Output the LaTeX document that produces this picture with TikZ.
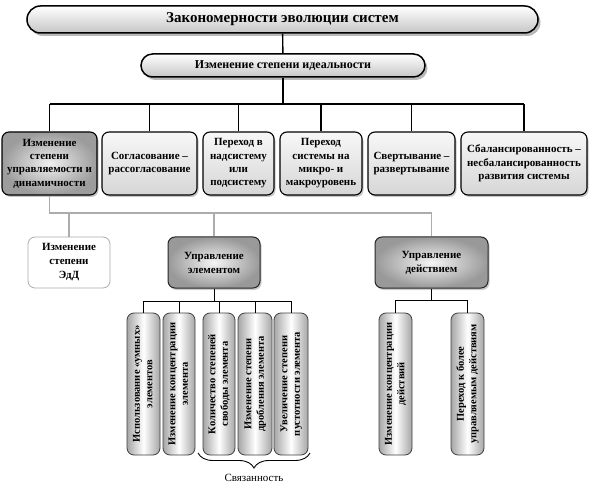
\documentclass[tikz,border=0pt]{standalone}
\usepackage{fontspec}
\usepackage{graphicx}
\setmainfont{Liberation Serif}
\usetikzlibrary{shadows,decorations.pathreplacing}
\newcommand{\vtext}[1]{\rotatebox{90}{\begin{tabular}{@{}c@{}}#1\end{tabular}}}
\begin{document}
\begin{tikzpicture}[x=1pt,y=-1pt,
  pill/.style={draw=black, line width=1.5pt, top color=white, bottom color=gray!45,
    drop shadow={shadow xshift=2.5pt, shadow yshift=-3pt, fill=black!55},
    inner sep=0pt, font=\bfseries},
  rowbox/.style={draw=black, line width=1.1pt, rounded corners=7pt, top color=gray!6, bottom color=gray!32,
    drop shadow={shadow xshift=1.5pt, shadow yshift=-2pt, fill=black!45},
    minimum height=63pt, inner sep=1pt, align=center, font=\bfseries\fontsize{11}{13.3}\selectfont},
  darkbox/.style={draw=black!85, line width=1pt, rounded corners=7pt, inner color=gray!8, outer color=gray!80,
    drop shadow={shadow xshift=1.5pt, shadow yshift=-2pt, fill=black!40},
    inner sep=1pt, align=center, font=\bfseries\fontsize{11}{14}\selectfont},
  whitebox/.style={draw=gray!65, line width=0.8pt, rounded corners=7pt, fill=white,
    inner sep=1pt, align=center, font=\bfseries\fontsize{11}{14}\selectfont},
  vbox/.style={draw=black!75, line width=0.8pt, rounded corners=7pt,
    left color=gray!70, right color=gray!70, middle color=white,
    minimum height=142pt, minimum width=33pt, inner sep=0pt,
    font=\bfseries\fontsize{10.5}{12.5}\selectfont},
  thick link/.style={draw=black, line width=1.4pt},
  gray link/.style={draw=gray!65, line width=1.4pt},
  thin link/.style={draw=black, line width=0.8pt}
]
\useasboundingbox (0,0) rectangle (591,486);

% top level
\node[pill, minimum width=511pt, minimum height=27pt, rounded corners=13.5pt, font=\bfseries\fontsize{15}{18}\selectfont]
  (top) at (282.5,19.5) {Закономерности эволюции систем};
\node[pill, minimum width=284pt, minimum height=23pt, rounded corners=11.5pt, font=\bfseries\fontsize{12}{14}\selectfont]
  (ideal) at (283,65.5) {Изменение степени идеальности};

% first row
\node[rowbox, minimum width=95pt, inner color=gray!12, outer color=gray!78] (r1) at (49.5,163.5)
  {Изменение\\степени\\управляемости и\\динамичности};
\node[rowbox, minimum width=95pt] (r2) at (149.5,163.5) {Согласование –\\рассогласование};
\node[rowbox, minimum width=71pt] (r3) at (238.5,163.5) {Переход в\\надсистему\\или\\подсистему};
\node[rowbox, minimum width=82pt] (r4) at (321,163.5) {Переход\\системы на\\микро- и\\макроуровень};
\node[rowbox, minimum width=87pt] (r5) at (411.5,163.5) {Свертывание –\\развертывание};
\node[rowbox, minimum width=126pt] (r6) at (524,163.5) {Сбалансированность –\\несбалансированность\\развития системы};

% second row
\node[whitebox, minimum width=82pt, minimum height=51pt] (edd) at (69,262.5) {Изменение\\степени\\ЭдД};
\node[darkbox, minimum width=92pt, minimum height=51pt] (ue) at (214,262.5) {Управление\\элементом};
\node[darkbox, minimum width=113pt, minimum height=51pt] (ud) at (431.5,262.5) {Управление\\действием};

% vertical boxes
\node[vbox] (v1) at (143.5,384) {\vtext{Использование «умных»\\элементов}};
\node[vbox, minimum width=32pt] (v2) at (179,384) {\vtext{Изменение концентрации\\элемента}};
\node[vbox, minimum width=32pt] (v3) at (219,384) {\vtext{Количество степеней\\свободы элемента}};
\node[vbox, minimum width=34pt] (v4) at (255,384) {\vtext{Изменение степени\\дробления элемента}};
\node[vbox, minimum width=34pt] (v5) at (291,384) {\vtext{Увеличение степени\\пустотности элемента}};
\node[vbox] (va) at (395.5,384) {\vtext{Изменение концентрации\\действий}};
\node[vbox] (vb) at (467.5,384) {\vtext{Переход к более\\управляемым действиям}};

% bus coordinates
\coordinate (bus1) at (283,104);
\coordinate (bus2) at (0,213);
\coordinate (bus3) at (0,301);
\coordinate (bus4) at (0,300);

% connectors
\draw[thick link] (top) -- (ideal);
\draw[thick link] (ideal) -- (bus1);
\draw[thick link] (r1 |- bus1) -- (r6 |- bus1);
\foreach \n in {r1,r2,r3,r4,r5,r6} \draw[thick link] (\n |- bus1) -- (\n);

\draw[gray link] (r1) -- (r1 |- bus2) -- (ud |- bus2);
\foreach \n in {edd,ue,ud} \draw[gray link] (\n |- bus2) -- (\n);

\draw[thin link] (ue) -- (ue |- bus3);
\draw[thin link] (v1 |- bus3) -- (v5 |- bus3);
\foreach \n in {v1,v2,v3,v4,v5} \draw[thin link] (\n |- bus3) -- (\n);

\draw[thin link] (ud) -- (ud |- bus4);
\draw[thin link] (va |- bus4) -- (vb |- bus4);
\foreach \n in {va,vb} \draw[thin link] (\n |- bus4) -- (\n);

% brace
\coordinate (br1) at (198,453);
\coordinate (br2) at (310,453);
\draw[line width=0.9pt, decorate, decoration={brace, mirror, amplitude=15pt}] (br1) -- (br2)
  node[midway, below=17pt, font=\fontsize{11}{13}\selectfont] (svyaz) {Связанность};
\end{tikzpicture}
\end{document}
